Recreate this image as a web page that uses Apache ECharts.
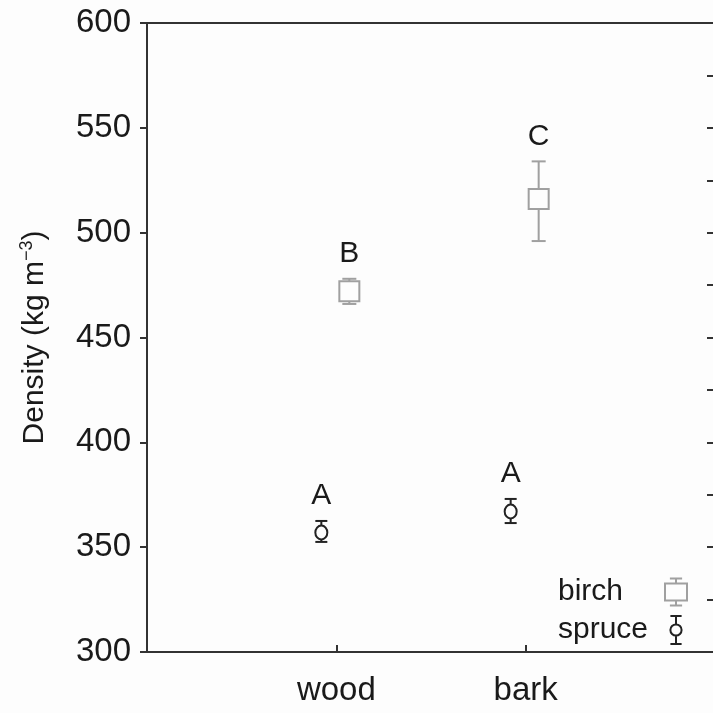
<!DOCTYPE html>
<html>
<head>
<meta charset="utf-8">
<script src="https://cdn.jsdelivr.net/npm/echarts@6/dist/echarts.min.js"></script>
<style>
html,body{margin:0;padding:0;background:#fdfdfd;}
#chart{width:713px;height:713px;}
</style>
</head>
<body>
<div id="chart"></div>
<script>
// ---- data ----
var categories = ['wood', 'bark'];          // placed at x = 1, 2
var categoryPos = [1, 2];
var birchMean = [472, 516];
var birchLow = [466, 496];
var birchHigh = [478, 534];
var birchLetters = ['B', 'C'];
var spruceMean = [357, 367];
var spruceLow = [352.5, 361.5];
var spruceHigh = [362.5, 373];
var spruceLetters = ['A', 'A'];
var yTicks = [300, 350, 400, 450, 500, 550, 600];

var FONT = '"Liberation Sans", Arial, Helvetica, sans-serif';
var BIRCH = '#a0a0a0';
var SPRUCE = '#222222';

function rows(mean, lo, hi) {
  return categoryPos.map(function (p, i) { return [p, mean[i], lo[i], hi[i]]; });
}

function makeRender(kind, color, offset, letters) {
  return function (params, api) {
    var x = api.value(0);
    var pM = api.coord([x, api.value(1)]);
    var pL = api.coord([x, api.value(2)]);
    var pH = api.coord([x, api.value(3)]);
    var cx = pM[0] + offset;
    var capHalf = kind === 'square' ? 7 : 6;
    var st = { stroke: color, lineWidth: 2, fill: null };
    var children = [
      { type: 'line', shape: { x1: cx, y1: pH[1], x2: cx, y2: pL[1] }, style: st },
      { type: 'line', shape: { x1: cx - capHalf, y1: pH[1], x2: cx + capHalf, y2: pH[1] }, style: st },
      { type: 'line', shape: { x1: cx - capHalf, y1: pL[1], x2: cx + capHalf, y2: pL[1] }, style: st }
    ];
    if (kind === 'square') {
      children.push({ type: 'rect', shape: { x: cx - 10, y: pM[1] - 10, width: 20, height: 20 },
        style: { fill: '#fdfdfd', stroke: color, lineWidth: 2 } });
    } else {
      children.push({ type: 'ellipse', shape: { cx: cx, cy: pM[1], rx: 6, ry: 7 },
        style: { fill: '#fdfdfd', stroke: color, lineWidth: 2 } });
    }
    children.push({ type: 'text', style: { x: cx, y: pH[1] - 10, text: letters[params.dataIndex],
      fill: '#1a1a1a', font: '30px ' + FONT, textAlign: 'center', textVerticalAlign: 'bottom' } });
    return { type: 'group', children: children };
  };
}

var birchIcon = 'path://M4,1H14M9,1V5M0,5H18V19H0ZM9,19V23M4,23H14';
var spruceIcon = 'path://M1,1H9M5,1V7M5,7A4,4,0,1,1,4.99,7ZM5,15V21M1,21H9';

var chart = echarts.init(document.getElementById('chart'), null, { renderer: 'canvas' });
chart.setOption({
  backgroundColor: '#fdfdfd',
  animation: false,
  grid: { left: 147, top: 23, width: 568, height: 629, outerBoundsMode: 'none', containLabel: false,
    show: true, borderColor: '#333', borderWidth: 2, backgroundColor: 'transparent' },
  legend: {
    orient: 'vertical', align: 'right', left: 553, top: 572, itemGap: 8,
    itemWidth: 22, itemHeight: 28,
    formatter: function (n) { return '{t|' + n + '}'; },
    textStyle: { fontSize: 30, fontFamily: FONT, color: '#1a1a1a',
      rich: { t: { width: 102, align: 'left', fontSize: 30, fontFamily: FONT, color: '#1a1a1a' } } },
    data: [
      { name: 'birch', icon: birchIcon, itemStyle: { color: '#fdfdfd', borderColor: BIRCH, borderWidth: 2 } },
      { name: 'spruce', icon: spruceIcon, itemStyle: { color: '#fdfdfd', borderColor: SPRUCE, borderWidth: 2 } }
    ]
  },
  xAxis: {
    type: 'value', min: 0, max: 3, interval: 1,
    axisLine: { show: true, lineStyle: { color: '#333', width: 2 } },
    axisTick: { show: true, inside: true, length: 7, lineStyle: { color: '#333', width: 2 } },
    splitLine: { show: false },
    axisLabel: { margin: 22, fontSize: 33, fontFamily: FONT, color: '#1a1a1a',
      formatter: function (v) { var i = categoryPos.indexOf(v); return i >= 0 ? categories[i] : ''; } }
  },
  yAxis: [{
    type: 'value', min: 300, max: 600, interval: 50, position: 'left',
    axisLine: { show: true, lineStyle: { color: '#333', width: 2 } },
    axisTick: { show: true, inside: false, length: 7, lineStyle: { color: '#333', width: 2 } },
    splitLine: { show: false },
    axisLabel: { margin: 16, fontSize: 33, fontFamily: FONT, color: '#1a1a1a',
      formatter: function (v) { return yTicks.indexOf(v) >= 0 ? String(v) : ''; } },
    name: 'Density (kg m{sup|−3})', nameLocation: 'middle', nameGap: 96,
    nameTextStyle: { fontSize: 30, fontFamily: FONT, color: '#1a1a1a',
      rich: { sup: { fontSize: 18, fontFamily: FONT, color: '#1a1a1a', padding: [0, 0, 15, 0] } } }
  }, {
    type: 'value', min: 300, max: 600, interval: 25, position: 'right',
    axisLine: { show: true, lineStyle: { color: '#333', width: 2 } },
    axisTick: { show: true, inside: true, length: 8, lineStyle: { color: '#333', width: 2 } },
    axisLabel: { show: false }, splitLine: { show: false }
  }],
  series: [{
    name: 'birch', type: 'custom', itemStyle: { color: BIRCH },
    renderItem: makeRender('square', BIRCH, 13, birchLetters),
    data: rows(birchMean, birchLow, birchHigh)
  }, {
    name: 'spruce', type: 'custom', itemStyle: { color: SPRUCE },
    renderItem: makeRender('circle', SPRUCE, -15, spruceLetters),
    data: rows(spruceMean, spruceLow, spruceHigh)
  }]
});
</script>
</body>
</html>
